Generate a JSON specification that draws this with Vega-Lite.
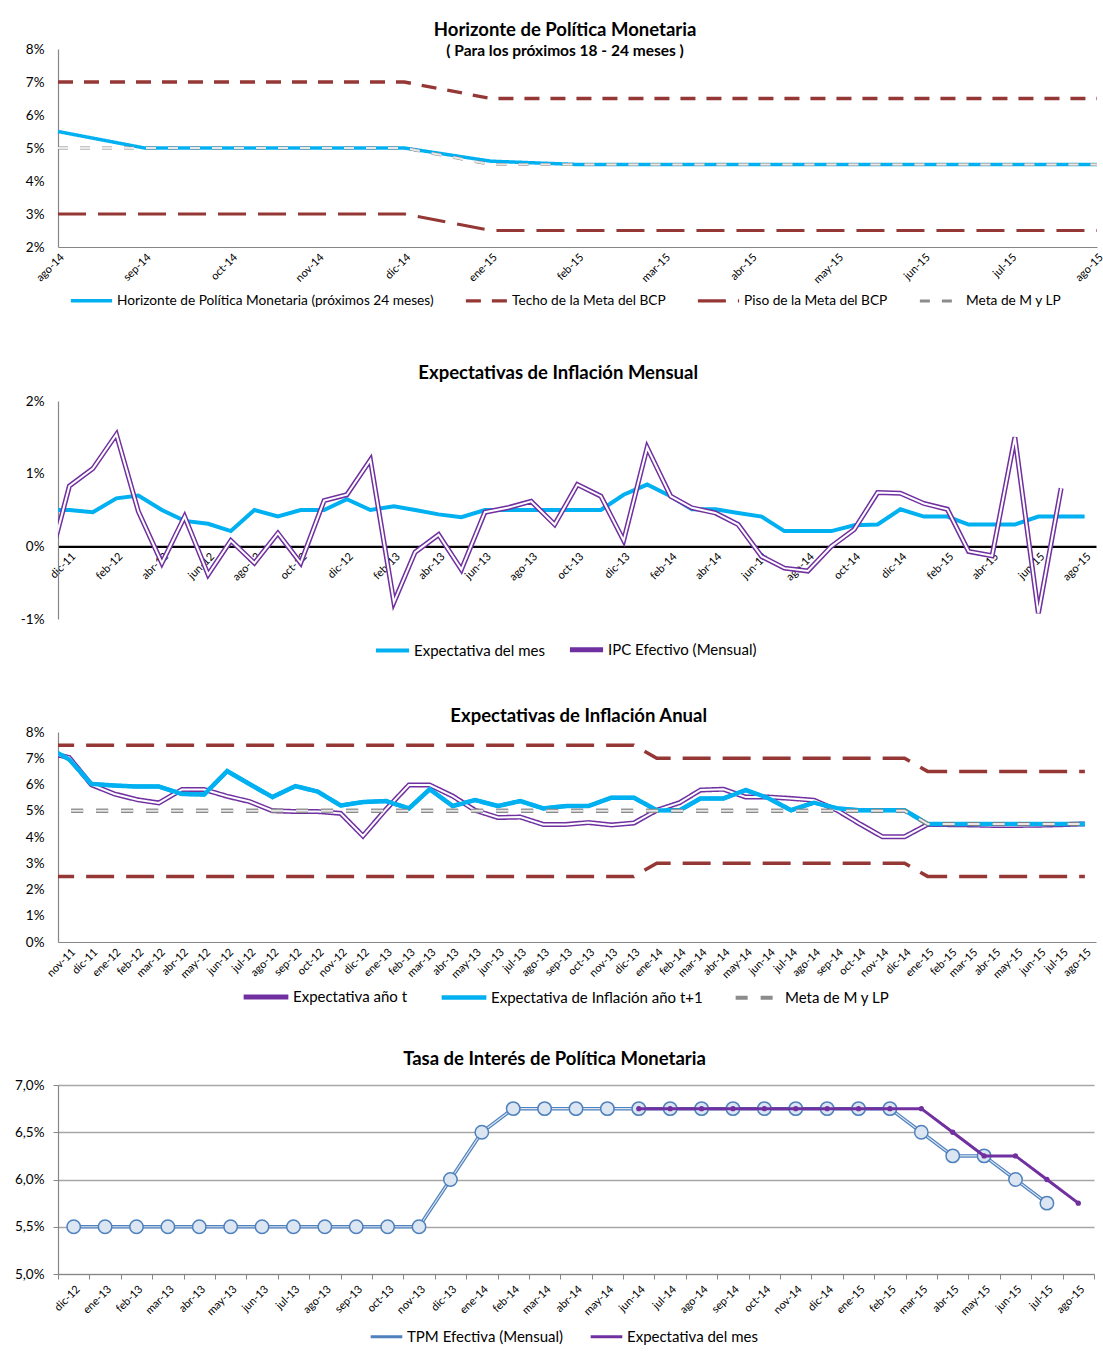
{
  "$schema": "https://vega.github.io/schema/vega-lite/v6.json",
  "padding": {"left": 14, "top": 21, "right": 0, "bottom": 0},
  "spacing": 42,
  "background": "white",
  "config": {
    "font": "Lato",
    "view": {"stroke": null},
    "axis": {"labelFont": "Lato", "labelColor": "#000", "domainColor": "#868686", "domainWidth": 1.2, "ticks": false, "grid": false, "labelFontSize": 13.5},
    "legend": {"labelFont": "Lato", "labelFontSize": 15, "labelColor": "#000"},
    "title": {"font": "Lato", "fontSize": 18.5, "fontWeight": "bold", "color": "#000", "anchor": "middle", "frame": "bounds"}
  },
  "resolve": {
    "scale": {"x": "independent", "y": "independent", "color": "independent", "strokeDash": "independent", "strokeWidth": "independent"},
    "legend": {"color": "independent", "strokeDash": "independent", "strokeWidth": "independent"}
  },
  "vconcat": [
    {
      "width": 1039,
      "height": 198,
      "title": {"text": "Horizonte de Política Monetaria", "subtitle": "( Para los próximos 18 - 24 meses )", "subtitleFont": "Lato", "subtitleFontSize": 15.5, "subtitleFontWeight": "bold", "subtitleColor": "#000", "subtitlePadding": 4, "offset": -17},
      "data": {"values": [
        {"mes": "ago-14", "Techo de la Meta del BCP": 7, "Piso de la Meta del BCP": 3, "Horizonte de Política Monetaria (próximos 24 meses)": 5.5, "Meta de M y LP": 5},
        {"mes": "sep-14", "Techo de la Meta del BCP": 7, "Piso de la Meta del BCP": 3, "Horizonte de Política Monetaria (próximos 24 meses)": 5.0, "Meta de M y LP": 5},
        {"mes": "oct-14", "Techo de la Meta del BCP": 7, "Piso de la Meta del BCP": 3, "Horizonte de Política Monetaria (próximos 24 meses)": 5.0, "Meta de M y LP": 5},
        {"mes": "nov-14", "Techo de la Meta del BCP": 7, "Piso de la Meta del BCP": 3, "Horizonte de Política Monetaria (próximos 24 meses)": 5.0, "Meta de M y LP": 5},
        {"mes": "dic-14", "Techo de la Meta del BCP": 7, "Piso de la Meta del BCP": 3, "Horizonte de Política Monetaria (próximos 24 meses)": 5.0, "Meta de M y LP": 5},
        {"mes": "ene-15", "Techo de la Meta del BCP": 6.5, "Piso de la Meta del BCP": 2.5, "Horizonte de Política Monetaria (próximos 24 meses)": 4.6, "Meta de M y LP": 4.5},
        {"mes": "feb-15", "Techo de la Meta del BCP": 6.5, "Piso de la Meta del BCP": 2.5, "Horizonte de Política Monetaria (próximos 24 meses)": 4.5, "Meta de M y LP": 4.5},
        {"mes": "mar-15", "Techo de la Meta del BCP": 6.5, "Piso de la Meta del BCP": 2.5, "Horizonte de Política Monetaria (próximos 24 meses)": 4.5, "Meta de M y LP": 4.5},
        {"mes": "abr-15", "Techo de la Meta del BCP": 6.5, "Piso de la Meta del BCP": 2.5, "Horizonte de Política Monetaria (próximos 24 meses)": 4.5, "Meta de M y LP": 4.5},
        {"mes": "may-15", "Techo de la Meta del BCP": 6.5, "Piso de la Meta del BCP": 2.5, "Horizonte de Política Monetaria (próximos 24 meses)": 4.5, "Meta de M y LP": 4.5},
        {"mes": "jun-15", "Techo de la Meta del BCP": 6.5, "Piso de la Meta del BCP": 2.5, "Horizonte de Política Monetaria (próximos 24 meses)": 4.5, "Meta de M y LP": 4.5},
        {"mes": "jul-15", "Techo de la Meta del BCP": 6.5, "Piso de la Meta del BCP": 2.5, "Horizonte de Política Monetaria (próximos 24 meses)": 4.5, "Meta de M y LP": 4.5},
        {"mes": "ago-15", "Techo de la Meta del BCP": 6.5, "Piso de la Meta del BCP": 2.5, "Horizonte de Política Monetaria (próximos 24 meses)": 4.5, "Meta de M y LP": 4.5}
      ]},
      "encoding": {
        "x": {"field": "mes", "type": "ordinal", "sort": null,
              "scale": {"type": "point", "padding": 0, "domain": ["ago-14","sep-14","oct-14","nov-14","dic-14","ene-15","feb-15","mar-15","abr-15","may-15","jun-15","jul-15","ago-15"]},
              "axis": {"title": null, "labelAngle": -45, "labelFontSize": 11, "labelPadding": 4}}
      },
      "layer": [
        {
          "transform": [{"fold": ["Techo de la Meta del BCP", "Piso de la Meta del BCP", "Horizonte de Política Monetaria (próximos 24 meses)", "Meta de M y LP"], "as": ["serie", "v"]}],
          "mark": {"type": "line"},
          "encoding": {
            "y": {"field": "v", "type": "quantitative", "scale": {"domain": [2, 8]},
                  "axis": {"title": null, "values": [2, 3, 4, 5, 6, 7, 8], "labelExpr": "datum.value + '%'", "labelPadding": 14, "labelOverlap": false}},
            "color": {"field": "serie", "type": "nominal",
                      "scale": {"domain": ["Horizonte de Política Monetaria (próximos 24 meses)", "Techo de la Meta del BCP", "Piso de la Meta del BCP", "Meta de M y LP"], "range": ["#00B0F0", "#953735", "#953735", "#8C8C8C"]},
                      "legend": {"title": null, "orient": "none", "legendX": -2, "legendY": 216, "direction": "horizontal", "columns": 4, "padding": 13, "symbolType": "stroke", "symbolSize": 1700, "columnPadding": 25, "labelLimit": 500, "labelOffset": 3, "labelFontSize": 13.7}},
            "strokeDash": {"field": "serie", "type": "nominal",
                      "scale": {"domain": ["Horizonte de Política Monetaria (próximos 24 meses)", "Techo de la Meta del BCP", "Piso de la Meta del BCP", "Meta de M y LP"], "range": [[1, 0], [15, 11], [28, 12], [10, 12]]}},
            "strokeWidth": {"field": "serie", "type": "nominal",
                      "scale": {"domain": ["Horizonte de Política Monetaria (próximos 24 meses)", "Techo de la Meta del BCP", "Piso de la Meta del BCP", "Meta de M y LP"], "range": [3.5, 3, 3, 4]}}
          }
        },
        {
          "mark": {"type": "line", "color": "#E8E8E8", "strokeWidth": 2, "strokeDash": [10, 12]},
          "encoding": {"y": {"field": "Meta de M y LP", "type": "quantitative",
                              "axis": {"title": null, "values": [2, 3, 4, 5, 6, 7, 8], "labelExpr": "datum.value + '%'", "labelPadding": 14, "labelOverlap": false}}}
        }
      ]
    },
    {
      "width": 1038,
      "height": 218,
      "title": {"text": "Expectativas de Inflación Mensual", "offset": 12},
      "data": {"values": [
        {"d": "2011-11-01", "Expectativa del mes": 0.50, "IPC Efectivo (Mensual)": -0.37},
        {"d": "2011-12-01", "Expectativa del mes": 0.50, "IPC Efectivo (Mensual)": 0.83},
        {"d": "2012-01-01", "Expectativa del mes": 0.47, "IPC Efectivo (Mensual)": 1.07},
        {"d": "2012-02-01", "Expectativa del mes": 0.66, "IPC Efectivo (Mensual)": 1.54},
        {"d": "2012-03-01", "Expectativa del mes": 0.70, "IPC Efectivo (Mensual)": 0.48},
        {"d": "2012-04-01", "Expectativa del mes": 0.50, "IPC Efectivo (Mensual)": -0.23},
        {"d": "2012-05-01", "Expectativa del mes": 0.35, "IPC Efectivo (Mensual)": 0.41},
        {"d": "2012-06-01", "Expectativa del mes": 0.31, "IPC Efectivo (Mensual)": -0.39},
        {"d": "2012-07-01", "Expectativa del mes": 0.21, "IPC Efectivo (Mensual)": 0.08},
        {"d": "2012-08-01", "Expectativa del mes": 0.50, "IPC Efectivo (Mensual)": -0.23},
        {"d": "2012-09-01", "Expectativa del mes": 0.41, "IPC Efectivo (Mensual)": 0.18},
        {"d": "2012-10-01", "Expectativa del mes": 0.50, "IPC Efectivo (Mensual)": -0.23},
        {"d": "2012-11-01", "Expectativa del mes": 0.50, "IPC Efectivo (Mensual)": 0.63},
        {"d": "2012-12-01", "Expectativa del mes": 0.65, "IPC Efectivo (Mensual)": 0.71},
        {"d": "2013-01-01", "Expectativa del mes": 0.50, "IPC Efectivo (Mensual)": 1.19},
        {"d": "2013-02-01", "Expectativa del mes": 0.55, "IPC Efectivo (Mensual)": -0.77},
        {"d": "2013-03-01", "Expectativa del mes": 0.50, "IPC Efectivo (Mensual)": -0.08},
        {"d": "2013-04-01", "Expectativa del mes": 0.44, "IPC Efectivo (Mensual)": 0.16},
        {"d": "2013-05-01", "Expectativa del mes": 0.40, "IPC Efectivo (Mensual)": -0.32},
        {"d": "2013-06-01", "Expectativa del mes": 0.50, "IPC Efectivo (Mensual)": 0.47},
        {"d": "2013-07-01", "Expectativa del mes": 0.50, "IPC Efectivo (Mensual)": 0.53},
        {"d": "2013-08-01", "Expectativa del mes": 0.50, "IPC Efectivo (Mensual)": 0.62},
        {"d": "2013-09-01", "Expectativa del mes": 0.50, "IPC Efectivo (Mensual)": 0.30},
        {"d": "2013-10-01", "Expectativa del mes": 0.50, "IPC Efectivo (Mensual)": 0.85},
        {"d": "2013-11-01", "Expectativa del mes": 0.50, "IPC Efectivo (Mensual)": 0.69},
        {"d": "2013-12-01", "Expectativa del mes": 0.71, "IPC Efectivo (Mensual)": 0.08},
        {"d": "2014-01-01", "Expectativa del mes": 0.85, "IPC Efectivo (Mensual)": 1.36},
        {"d": "2014-02-01", "Expectativa del mes": 0.69, "IPC Efectivo (Mensual)": 0.69},
        {"d": "2014-03-01", "Expectativa del mes": 0.51, "IPC Efectivo (Mensual)": 0.53},
        {"d": "2014-04-01", "Expectativa del mes": 0.51, "IPC Efectivo (Mensual)": 0.46},
        {"d": "2014-05-01", "Expectativa del mes": 0.46, "IPC Efectivo (Mensual)": 0.30},
        {"d": "2014-06-01", "Expectativa del mes": 0.41, "IPC Efectivo (Mensual)": -0.14},
        {"d": "2014-07-01", "Expectativa del mes": 0.21, "IPC Efectivo (Mensual)": -0.30},
        {"d": "2014-08-01", "Expectativa del mes": 0.21, "IPC Efectivo (Mensual)": -0.34},
        {"d": "2014-09-01", "Expectativa del mes": 0.21, "IPC Efectivo (Mensual)": 0.00},
        {"d": "2014-10-01", "Expectativa del mes": 0.29, "IPC Efectivo (Mensual)": 0.23},
        {"d": "2014-11-01", "Expectativa del mes": 0.30, "IPC Efectivo (Mensual)": 0.74},
        {"d": "2014-12-01", "Expectativa del mes": 0.51, "IPC Efectivo (Mensual)": 0.73},
        {"d": "2015-01-01", "Expectativa del mes": 0.41, "IPC Efectivo (Mensual)": 0.59},
        {"d": "2015-02-01", "Expectativa del mes": 0.41, "IPC Efectivo (Mensual)": 0.51},
        {"d": "2015-03-01", "Expectativa del mes": 0.30, "IPC Efectivo (Mensual)": -0.07},
        {"d": "2015-04-01", "Expectativa del mes": 0.30, "IPC Efectivo (Mensual)": -0.13},
        {"d": "2015-05-01", "Expectativa del mes": 0.30, "IPC Efectivo (Mensual)": 1.50},
        {"d": "2015-06-01", "Expectativa del mes": 0.41, "IPC Efectivo (Mensual)": -0.92},
        {"d": "2015-07-01", "Expectativa del mes": 0.41, "IPC Efectivo (Mensual)": 0.80},
        {"d": "2015-08-01", "Expectativa del mes": 0.41}
      ]},
      "encoding": {
        "x": {"field": "d", "type": "temporal",
              "scale": {"type": "utc", "domain": [{"year": 2011, "month": 11, "date": 16, "utc": true}, {"year": 2015, "month": 8, "date": 16, "utc": true}]},
              "axis": {"title": null, "offset": -72.7, "domainColor": "#000", "domainWidth": 2.2, "labelAngle": -45, "labelFontSize": 11, "labelPadding": 4, "labelOverlap": false,
                       "values": [
                         {"year": 2011, "month": 12, "date": 1, "utc": true},
                         {"year": 2012, "month": 2, "date": 1, "utc": true}, {"year": 2012, "month": 4, "date": 1, "utc": true}, {"year": 2012, "month": 6, "date": 1, "utc": true}, {"year": 2012, "month": 8, "date": 1, "utc": true}, {"year": 2012, "month": 10, "date": 1, "utc": true}, {"year": 2012, "month": 12, "date": 1, "utc": true},
                         {"year": 2013, "month": 2, "date": 1, "utc": true}, {"year": 2013, "month": 4, "date": 1, "utc": true}, {"year": 2013, "month": 6, "date": 1, "utc": true}, {"year": 2013, "month": 8, "date": 1, "utc": true}, {"year": 2013, "month": 10, "date": 1, "utc": true}, {"year": 2013, "month": 12, "date": 1, "utc": true},
                         {"year": 2014, "month": 2, "date": 1, "utc": true}, {"year": 2014, "month": 4, "date": 1, "utc": true}, {"year": 2014, "month": 6, "date": 1, "utc": true}, {"year": 2014, "month": 8, "date": 1, "utc": true}, {"year": 2014, "month": 10, "date": 1, "utc": true}, {"year": 2014, "month": 12, "date": 1, "utc": true},
                         {"year": 2015, "month": 2, "date": 1, "utc": true}, {"year": 2015, "month": 4, "date": 1, "utc": true}, {"year": 2015, "month": 6, "date": 1, "utc": true}, {"year": 2015, "month": 8, "date": 1, "utc": true}
                       ],
                       "labelExpr": "['ene','feb','mar','abr','may','jun','jul','ago','sep','oct','nov','dic'][utcmonth(datum.value)] + '-' + utcFormat(datum.value, '%y')"}}
      },
      "layer": [
        {
          "transform": [{"fold": ["Expectativa del mes", "IPC Efectivo (Mensual)"], "as": ["serie", "v"]}],
          "mark": {"type": "line", "clip": true},
          "encoding": {
            "y": {"field": "v", "type": "quantitative", "scale": {"domain": [-1, 2]},
                  "axis": {"title": null, "values": [-1, 0, 1, 2], "labelExpr": "datum.value + '%'", "labelPadding": 14}},
            "color": {"field": "serie", "type": "nominal",
                      "scale": {"domain": ["Expectativa del mes", "IPC Efectivo (Mensual)"], "range": ["#00B0F0", "#7030A0"]},
                      "legend": {"title": null, "orient": "none", "legendX": 311, "legendY": 225, "direction": "horizontal", "columns": 2, "padding": 4, "symbolType": "stroke", "symbolSize": 1100, "columnPadding": 14, "labelLimit": 400, "labelOffset": 2}},
            "strokeWidth": {"field": "serie", "type": "nominal",
                      "scale": {"domain": ["Expectativa del mes", "IPC Efectivo (Mensual)"], "range": [4, 5]}}
          }
        },
        {
          "mark": {"type": "line", "clip": true, "color": "#FFFFFF", "strokeWidth": 2},
          "encoding": {"y": {"field": "IPC Efectivo (Mensual)", "type": "quantitative",
                              "axis": {"title": null, "values": [-1, 0, 1, 2], "labelExpr": "datum.value + '%'", "labelPadding": 14}}}
        }
      ]
    },
    {
      "width": 1038,
      "height": 210,
      "title": {"text": "Expectativas de Inflación Anual", "offset": 0, "dx": 18},
      "data": {"values": [
        {"d": "2011-10-01", "techo": 7.5, "piso": 2.5, "Expectativa año t": 7.22, "Expectativa de Inflación año t+1": 7.44, "Meta de M y LP": 5},
        {"d": "2011-11-01", "techo": 7.5, "piso": 2.5, "Expectativa año t": 7.03, "Expectativa de Inflación año t+1": 6.96, "Meta de M y LP": 5},
        {"d": "2011-12-01", "techo": 7.5, "piso": 2.5, "Expectativa año t": 5.99, "Expectativa de Inflación año t+1": 6.02, "Meta de M y LP": 5},
        {"d": "2012-01-01", "techo": 7.5, "piso": 2.5, "Expectativa año t": 5.64, "Expectativa de Inflación año t+1": 5.96, "Meta de M y LP": 5},
        {"d": "2012-02-01", "techo": 7.5, "piso": 2.5, "Expectativa año t": 5.42, "Expectativa de Inflación año t+1": 5.92, "Meta de M y LP": 5},
        {"d": "2012-03-01", "techo": 7.5, "piso": 2.5, "Expectativa año t": 5.30, "Expectativa de Inflación año t+1": 5.92, "Meta de M y LP": 5},
        {"d": "2012-04-01", "techo": 7.5, "piso": 2.5, "Expectativa año t": 5.81, "Expectativa de Inflación año t+1": 5.64, "Meta de M y LP": 5},
        {"d": "2012-05-01", "techo": 7.5, "piso": 2.5, "Expectativa año t": 5.81, "Expectativa de Inflación año t+1": 5.62, "Meta de M y LP": 5},
        {"d": "2012-06-01", "techo": 7.5, "piso": 2.5, "Expectativa año t": 5.55, "Expectativa de Inflación año t+1": 6.51, "Meta de M y LP": 5},
        {"d": "2012-07-01", "techo": 7.5, "piso": 2.5, "Expectativa año t": 5.35, "Expectativa de Inflación año t+1": 6.02, "Meta de M y LP": 5},
        {"d": "2012-08-01", "techo": 7.5, "piso": 2.5, "Expectativa año t": 5.00, "Expectativa de Inflación año t+1": 5.52, "Meta de M y LP": 5},
        {"d": "2012-09-01", "techo": 7.5, "piso": 2.5, "Expectativa año t": 4.97, "Expectativa de Inflación año t+1": 5.94, "Meta de M y LP": 5},
        {"d": "2012-10-01", "techo": 7.5, "piso": 2.5, "Expectativa año t": 4.97, "Expectativa de Inflación año t+1": 5.73, "Meta de M y LP": 5},
        {"d": "2012-11-01", "techo": 7.5, "piso": 2.5, "Expectativa año t": 4.90, "Expectativa de Inflación año t+1": 5.20, "Meta de M y LP": 5},
        {"d": "2012-12-01", "techo": 7.5, "piso": 2.5, "Expectativa año t": 4.04, "Expectativa de Inflación año t+1": 5.33, "Meta de M y LP": 5},
        {"d": "2013-01-01", "techo": 7.5, "piso": 2.5, "Expectativa año t": 5.05, "Expectativa de Inflación año t+1": 5.37, "Meta de M y LP": 5},
        {"d": "2013-02-01", "techo": 7.5, "piso": 2.5, "Expectativa año t": 5.98, "Expectativa de Inflación año t+1": 5.09, "Meta de M y LP": 5},
        {"d": "2013-03-01", "techo": 7.5, "piso": 2.5, "Expectativa año t": 5.98, "Expectativa de Inflación año t+1": 5.82, "Meta de M y LP": 5},
        {"d": "2013-04-01", "techo": 7.5, "piso": 2.5, "Expectativa año t": 5.56, "Expectativa de Inflación año t+1": 5.18, "Meta de M y LP": 5},
        {"d": "2013-05-01", "techo": 7.5, "piso": 2.5, "Expectativa año t": 5.02, "Expectativa de Inflación año t+1": 5.41, "Meta de M y LP": 5},
        {"d": "2013-06-01", "techo": 7.5, "piso": 2.5, "Expectativa año t": 4.74, "Expectativa de Inflación año t+1": 5.18, "Meta de M y LP": 5},
        {"d": "2013-07-01", "techo": 7.5, "piso": 2.5, "Expectativa año t": 4.76, "Expectativa de Inflación año t+1": 5.37, "Meta de M y LP": 5},
        {"d": "2013-08-01", "techo": 7.5, "piso": 2.5, "Expectativa año t": 4.48, "Expectativa de Inflación año t+1": 5.09, "Meta de M y LP": 5},
        {"d": "2013-09-01", "techo": 7.5, "piso": 2.5, "Expectativa año t": 4.48, "Expectativa de Inflación año t+1": 5.18, "Meta de M y LP": 5},
        {"d": "2013-10-01", "techo": 7.5, "piso": 2.5, "Expectativa año t": 4.55, "Expectativa de Inflación año t+1": 5.18, "Meta de M y LP": 5},
        {"d": "2013-11-01", "techo": 7.5, "piso": 2.5, "Expectativa año t": 4.46, "Expectativa de Inflación año t+1": 5.50, "Meta de M y LP": 5},
        {"d": "2013-12-01", "techo": 7.5, "piso": 2.5, "Expectativa año t": 4.53, "Expectativa de Inflación año t+1": 5.50, "Meta de M y LP": 5},
        {"d": "2014-01-01", "techo": 7.0, "piso": 3.0, "Expectativa año t": 5.02, "Expectativa de Inflación año t+1": 5.02, "Meta de M y LP": 5},
        {"d": "2014-02-01", "techo": 7.0, "piso": 3.0, "Expectativa año t": 5.31, "Expectativa de Inflación año t+1": 5.02, "Meta de M y LP": 5},
        {"d": "2014-03-01", "techo": 7.0, "piso": 3.0, "Expectativa año t": 5.79, "Expectativa de Inflación año t+1": 5.47, "Meta de M y LP": 5},
        {"d": "2014-04-01", "techo": 7.0, "piso": 3.0, "Expectativa año t": 5.82, "Expectativa de Inflación año t+1": 5.47, "Meta de M y LP": 5},
        {"d": "2014-05-01", "techo": 7.0, "piso": 3.0, "Expectativa año t": 5.52, "Expectativa de Inflación año t+1": 5.79, "Meta de M y LP": 5},
        {"d": "2014-06-01", "techo": 7.0, "piso": 3.0, "Expectativa año t": 5.52, "Expectativa de Inflación año t+1": 5.47, "Meta de M y LP": 5},
        {"d": "2014-07-01", "techo": 7.0, "piso": 3.0, "Expectativa año t": 5.47, "Expectativa de Inflación año t+1": 5.02, "Meta de M y LP": 5},
        {"d": "2014-08-01", "techo": 7.0, "piso": 3.0, "Expectativa año t": 5.40, "Expectativa de Inflación año t+1": 5.31, "Meta de M y LP": 5},
        {"d": "2014-09-01", "techo": 7.0, "piso": 3.0, "Expectativa año t": 5.02, "Expectativa de Inflación año t+1": 5.09, "Meta de M y LP": 5},
        {"d": "2014-10-01", "techo": 7.0, "piso": 3.0, "Expectativa año t": 4.51, "Expectativa de Inflación año t+1": 5.02, "Meta de M y LP": 5},
        {"d": "2014-11-01", "techo": 7.0, "piso": 3.0, "Expectativa año t": 4.01, "Expectativa de Inflación año t+1": 5.02, "Meta de M y LP": 5},
        {"d": "2014-12-01", "techo": 7.0, "piso": 3.0, "Expectativa año t": 4.01, "Expectativa de Inflación año t+1": 5.02, "Meta de M y LP": 5},
        {"d": "2015-01-01", "techo": 6.5, "piso": 2.5, "Expectativa año t": 4.48, "Expectativa de Inflación año t+1": 4.50, "Meta de M y LP": 4.5},
        {"d": "2015-02-01", "techo": 6.5, "piso": 2.5, "Expectativa año t": 4.47, "Expectativa de Inflación año t+1": 4.50, "Meta de M y LP": 4.5},
        {"d": "2015-03-01", "techo": 6.5, "piso": 2.5, "Expectativa año t": 4.46, "Expectativa de Inflación año t+1": 4.50, "Meta de M y LP": 4.5},
        {"d": "2015-04-01", "techo": 6.5, "piso": 2.5, "Expectativa año t": 4.44, "Expectativa de Inflación año t+1": 4.50, "Meta de M y LP": 4.5},
        {"d": "2015-05-01", "techo": 6.5, "piso": 2.5, "Expectativa año t": 4.44, "Expectativa de Inflación año t+1": 4.50, "Meta de M y LP": 4.5},
        {"d": "2015-06-01", "techo": 6.5, "piso": 2.5, "Expectativa año t": 4.45, "Expectativa de Inflación año t+1": 4.50, "Meta de M y LP": 4.5},
        {"d": "2015-07-01", "techo": 6.5, "piso": 2.5, "Expectativa año t": 4.47, "Expectativa de Inflación año t+1": 4.50, "Meta de M y LP": 4.5},
        {"d": "2015-08-01", "techo": 6.5, "piso": 2.5, "Expectativa año t": 4.50, "Expectativa de Inflación año t+1": 4.50, "Meta de M y LP": 4.5}
      ]},
      "encoding": {
        "x": {"field": "d", "type": "temporal",
              "scale": {"type": "utc", "domain": [{"year": 2011, "month": 10, "date": 17, "utc": true}, {"year": 2015, "month": 8, "date": 16, "utc": true}]},
              "axis": {"title": null, "labelAngle": -45, "labelFontSize": 11, "labelPadding": 4, "labelOverlap": false, "tickCount": {"interval": "month", "step": 1},
                       "labelExpr": "['ene','feb','mar','abr','may','jun','jul','ago','sep','oct','nov','dic'][utcmonth(datum.value)] + '-' + utcFormat(datum.value, '%y')"}}
      },
      "layer": [
        {
          "mark": {"type": "line", "clip": true, "color": "#953735", "strokeWidth": 3.5, "strokeDash": [28, 12]},
          "encoding": {"y": {"field": "techo", "type": "quantitative", "scale": {"domain": [0, 8]},
                              "axis": {"title": null, "values": [0, 1, 2, 3, 4, 5, 6, 7, 8], "labelExpr": "datum.value + '%'", "labelPadding": 14, "labelOverlap": false}}}
        },
        {
          "mark": {"type": "line", "clip": true, "color": "#953735", "strokeWidth": 3.5, "strokeDash": [28, 12]},
          "encoding": {"y": {"field": "piso", "type": "quantitative",
                              "axis": {"title": null, "values": [0, 1, 2, 3, 4, 5, 6, 7, 8], "labelExpr": "datum.value + '%'", "labelPadding": 14, "labelOverlap": false}}}
        },
        {
          "transform": [{"fold": ["Expectativa año t", "Expectativa de Inflación año t+1", "Meta de M y LP"], "as": ["serie", "v"]}],
          "mark": {"type": "line", "clip": true},
          "encoding": {
            "y": {"field": "v", "type": "quantitative",
                  "axis": {"title": null, "values": [0, 1, 2, 3, 4, 5, 6, 7, 8], "labelExpr": "datum.value + '%'", "labelPadding": 14, "labelOverlap": false}},
            "color": {"field": "serie", "type": "nominal",
                      "scale": {"domain": ["Expectativa año t", "Expectativa de Inflación año t+1", "Meta de M y LP"], "range": ["#7030A0", "#00B0F0", "#8C8C8C"]},
                      "legend": {"title": null, "orient": "none", "legendX": 183, "legendY": 240, "direction": "horizontal", "columns": 3, "symbolType": "stroke", "symbolSize": 2000, "columnPadding": 24, "labelLimit": 400, "labelOffset": 2}},
            "strokeDash": {"field": "serie", "type": "nominal",
                      "scale": {"domain": ["Expectativa año t", "Expectativa de Inflación año t+1", "Meta de M y LP"], "range": [[1, 0], [1, 0], [12, 13]]}},
            "strokeWidth": {"field": "serie", "type": "nominal",
                      "scale": {"domain": ["Expectativa año t", "Expectativa de Inflación año t+1", "Meta de M y LP"], "range": [5, 4, 4]}}
          }
        },
        {
          "mark": {"type": "line", "clip": true, "color": "#FFFFFF", "strokeWidth": 2},
          "encoding": {"y": {"field": "Expectativa año t", "type": "quantitative",
                              "axis": {"title": null, "values": [0, 1, 2, 3, 4, 5, 6, 7, 8], "labelExpr": "datum.value + '%'", "labelPadding": 14, "labelOverlap": false}}}
        },
        {
          "mark": {"type": "line", "clip": true, "color": "#00B0F0", "strokeWidth": 4},
          "encoding": {"y": {"field": "Expectativa de Inflación año t+1", "type": "quantitative",
                              "axis": {"title": null, "values": [0, 1, 2, 3, 4, 5, 6, 7, 8], "labelExpr": "datum.value + '%'", "labelPadding": 14, "labelOverlap": false}}}
        },
        {
          "mark": {"type": "line", "clip": true, "color": "#7F7F7F", "strokeWidth": 4, "strokeDash": [12, 13]},
          "encoding": {"y": {"field": "Meta de M y LP", "type": "quantitative",
                              "axis": {"title": null, "values": [0, 1, 2, 3, 4, 5, 6, 7, 8], "labelExpr": "datum.value + '%'", "labelPadding": 14, "labelOverlap": false}}}
        },
        {
          "mark": {"type": "line", "clip": true, "color": "#E8E8E8", "strokeWidth": 2, "strokeDash": [12, 13]},
          "encoding": {"y": {"field": "Meta de M y LP", "type": "quantitative",
                              "axis": {"title": null, "values": [0, 1, 2, 3, 4, 5, 6, 7, 8], "labelExpr": "datum.value + '%'", "labelPadding": 14, "labelOverlap": false}}}
        }
      ]
    },
    {
      "width": 1036,
      "height": 189,
      "title": {"text": "Tasa de Interés de Política Monetaria", "offset": 10},
      "data": {"values": [
        {"mes": "dic-12", "tpm": 5.5}, {"mes": "ene-13", "tpm": 5.5}, {"mes": "feb-13", "tpm": 5.5}, {"mes": "mar-13", "tpm": 5.5},
        {"mes": "abr-13", "tpm": 5.5}, {"mes": "may-13", "tpm": 5.5}, {"mes": "jun-13", "tpm": 5.5}, {"mes": "jul-13", "tpm": 5.5},
        {"mes": "ago-13", "tpm": 5.5}, {"mes": "sep-13", "tpm": 5.5}, {"mes": "oct-13", "tpm": 5.5}, {"mes": "nov-13", "tpm": 5.5},
        {"mes": "dic-13", "tpm": 6.0}, {"mes": "ene-14", "tpm": 6.5}, {"mes": "feb-14", "tpm": 6.75}, {"mes": "mar-14", "tpm": 6.75},
        {"mes": "abr-14", "tpm": 6.75}, {"mes": "may-14", "tpm": 6.75},
        {"mes": "jun-14", "tpm": 6.75, "exp": 6.75}, {"mes": "jul-14", "tpm": 6.75, "exp": 6.75}, {"mes": "ago-14", "tpm": 6.75, "exp": 6.75},
        {"mes": "sep-14", "tpm": 6.75, "exp": 6.75}, {"mes": "oct-14", "tpm": 6.75, "exp": 6.75}, {"mes": "nov-14", "tpm": 6.75, "exp": 6.75},
        {"mes": "dic-14", "tpm": 6.75, "exp": 6.75}, {"mes": "ene-15", "tpm": 6.75, "exp": 6.75}, {"mes": "feb-15", "tpm": 6.75, "exp": 6.75},
        {"mes": "mar-15", "tpm": 6.5, "exp": 6.75}, {"mes": "abr-15", "tpm": 6.25, "exp": 6.5}, {"mes": "may-15", "tpm": 6.25, "exp": 6.25},
        {"mes": "jun-15", "tpm": 6.0, "exp": 6.25}, {"mes": "jul-15", "tpm": 5.75, "exp": 6.0}, {"mes": "ago-15", "exp": 5.75}
      ]},
      "encoding": {
        "x": {"field": "mes", "type": "ordinal", "sort": null,
              "scale": {"type": "band", "paddingInner": 0, "paddingOuter": 0,
                        "domain": ["dic-12","ene-13","feb-13","mar-13","abr-13","may-13","jun-13","jul-13","ago-13","sep-13","oct-13","nov-13","dic-13","ene-14","feb-14","mar-14","abr-14","may-14","jun-14","jul-14","ago-14","sep-14","oct-14","nov-14","dic-14","ene-15","feb-15","mar-15","abr-15","may-15","jun-15","jul-15","ago-15"]},
              "axis": {"title": null, "labelAngle": -45, "labelFontSize": 11, "labelPadding": 4, "ticks": true, "tickBand": "extent", "tickSize": 5, "tickColor": "#868686"}}
      },
      "layer": [
        {
          "mark": {"type": "line", "strokeWidth": 3.5},
          "encoding": {
            "y": {"field": "tpm", "type": "quantitative", "scale": {"domain": [5, 7]},
                  "axis": {"title": null, "values": [5, 5.5, 6, 6.5, 7], "grid": true, "gridColor": "#A6A6A6", "gridWidth": 1.5, "ticks": true, "tickSize": 5, "tickColor": "#868686", "labelPadding": 9,
                           "labelExpr": "replace(format(datum.value, '.1f'), '.', ',') + '%'"}},
            "color": {"datum": "TPM Efectiva (Mensual)", "type": "nominal",
                      "scale": {"domain": ["TPM Efectiva (Mensual)", "Expectativa del mes"], "range": ["#4F81BD", "#7030A0"]},
                      "legend": {"title": null, "orient": "none", "legendX": 311, "legendY": 234, "direction": "horizontal", "columns": 2, "symbolType": "stroke", "symbolSize": 1000, "symbolStrokeWidth": 3, "columnPadding": 20, "labelLimit": 400, "labelOffset": 3}}
          }
        },
        {
          "mark": {"type": "line", "color": "#DCE6F2", "strokeWidth": 1.2},
          "encoding": {"y": {"field": "tpm", "type": "quantitative"}}
        },
        {
          "mark": {"type": "point", "filled": true, "fill": "#DCE6F2", "stroke": "#4F81BD", "strokeWidth": 1.5, "size": 180, "opacity": 1},
          "encoding": {"y": {"field": "tpm", "type": "quantitative"}}
        },
        {
          "mark": {"type": "line", "strokeWidth": 3},
          "encoding": {
            "y": {"field": "exp", "type": "quantitative"},
            "color": {"datum": "Expectativa del mes", "type": "nominal"}
          }
        },
        {
          "mark": {"type": "point", "filled": true, "color": "#7030A0", "size": 28, "opacity": 1},
          "encoding": {"y": {"field": "exp", "type": "quantitative"}}
        }
      ]
    }
  ]
}
